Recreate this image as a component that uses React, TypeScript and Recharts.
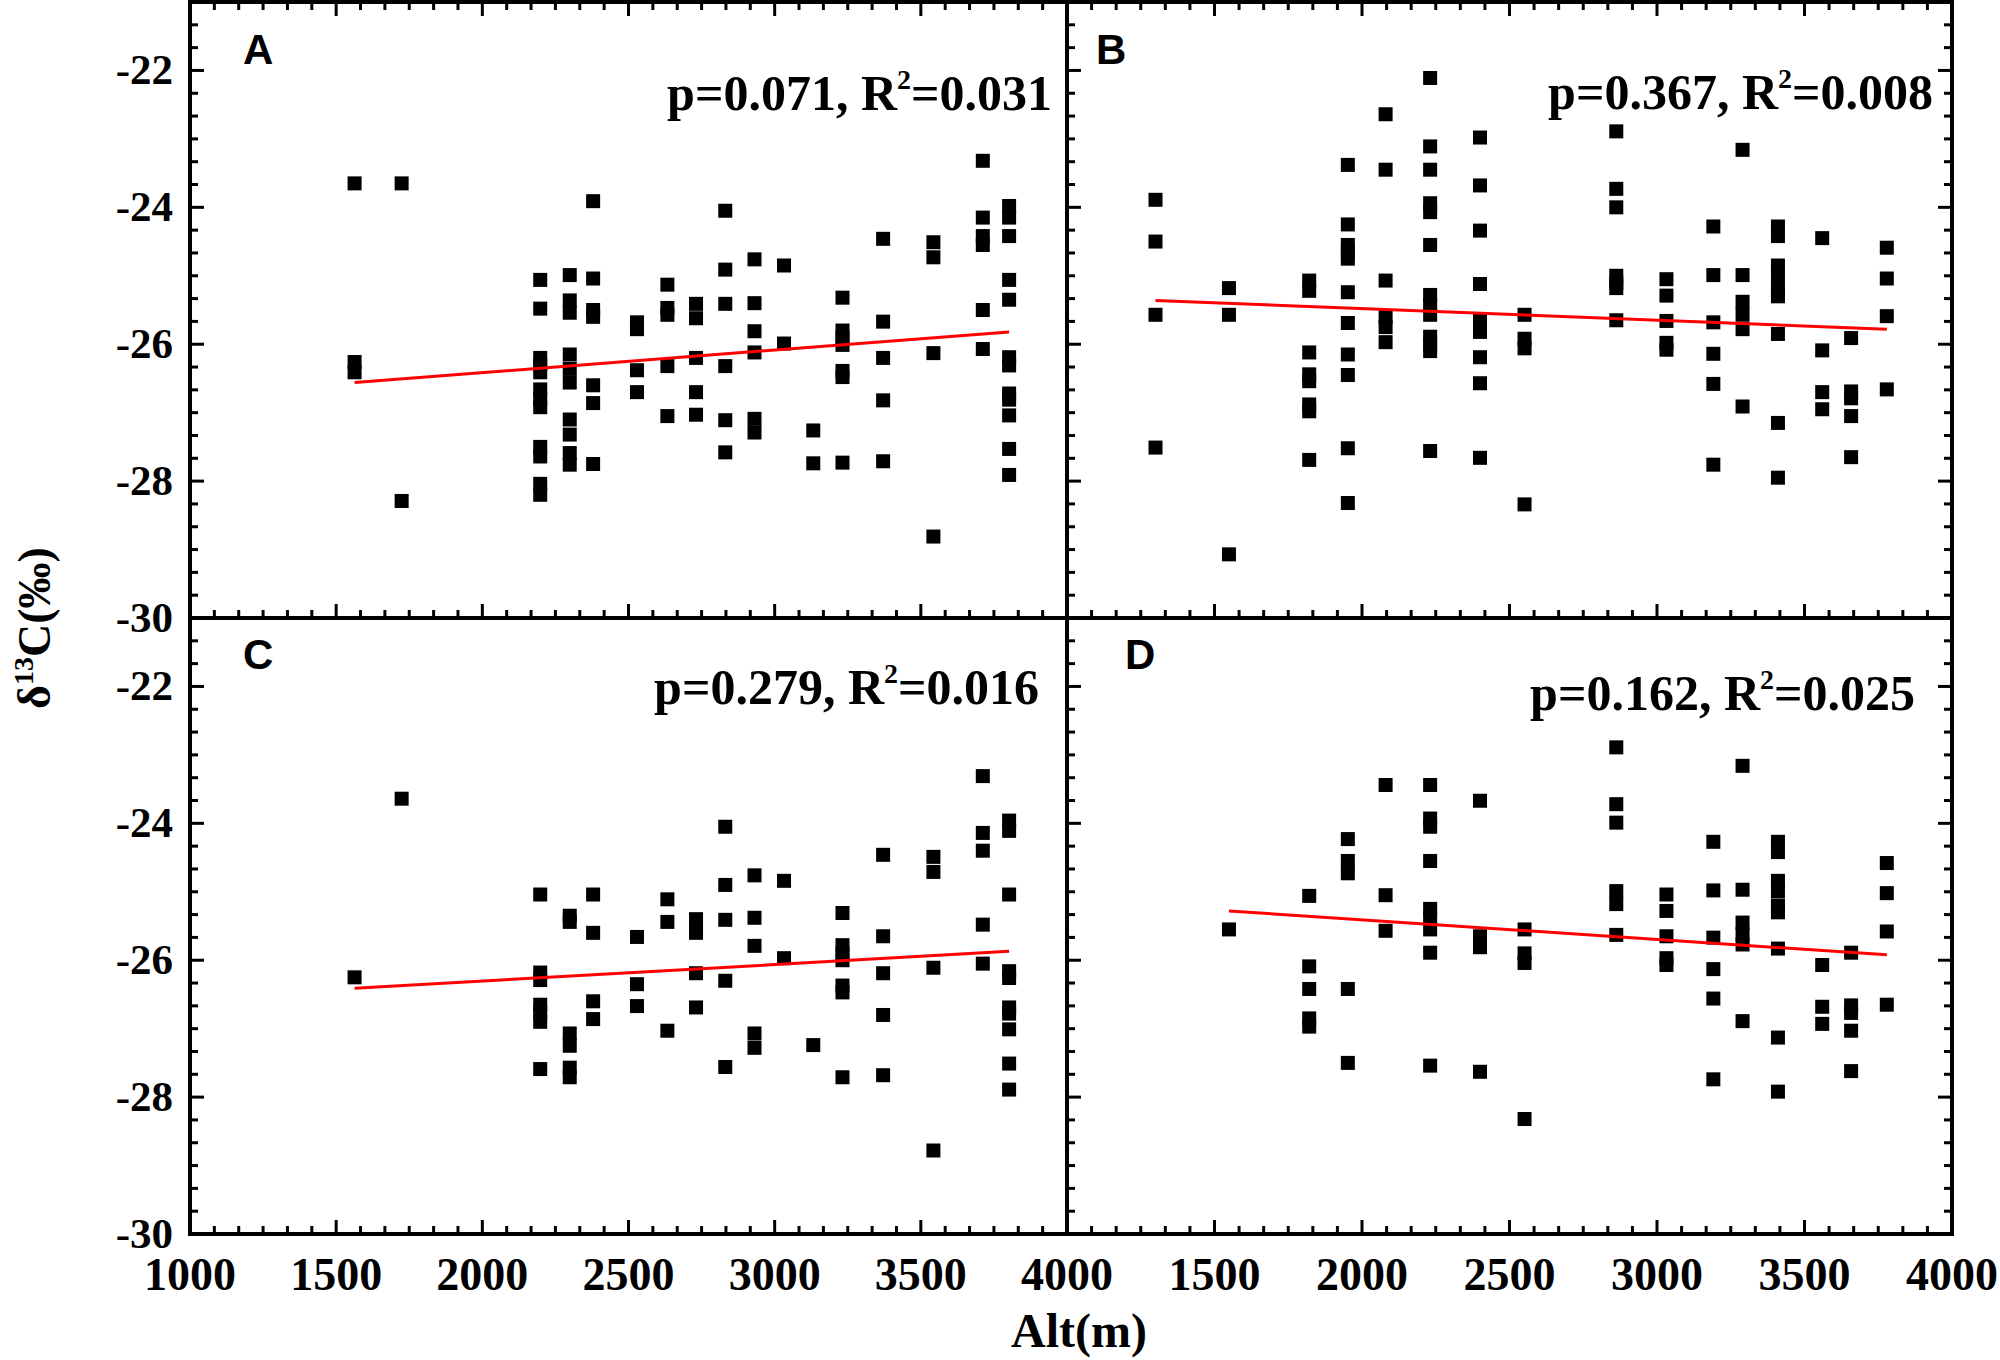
import React from 'react';
import { ScatterChart, Scatter, XAxis, YAxis, ReferenceArea } from 'recharts';

// δ13C (‰) per sampling altitude: [altitude (m), values at that altitude]
const panelA: [number, number[]][] = [
  [1563, [-23.65, -26.26, -26.41]],
  [1724, [-23.65, -28.29]],
  [2198, [-25.06, -25.48, -26.2, -26.3, -26.41, -26.66, -26.8, -26.92, -27.5, -27.64, -28.04, -28.2]],
  [2299, [-24.99, -25.36, -25.54, -26.15, -26.36, -26.56, -27.1, -27.32, -27.59, -27.76]],
  [2379, [-23.91, -25.04, -25.5, -25.6, -26.6, -26.86, -27.75]],
  [2529, [-25.68, -25.78, -26.38, -26.7]],
  [2633, [-25.13, -25.47, -25.57, -26.32, -27.05]],
  [2731, [-25.41, -25.62, -26.2, -26.7, -27.03]],
  [2831, [-24.05, -24.91, -25.41, -26.32, -27.11, -27.58]],
  [2931, [-24.76, -25.4, -25.81, -26.12, -27.09, -27.29]],
  [3032, [-24.85, -25.99]],
  [3132, [-27.26, -27.74]],
  [3232, [-25.32, -25.8, -25.9, -26.01, -26.39, -26.48, -27.73]],
  [3371, [-24.46, -25.67, -26.2, -26.82, -27.71]],
  [3543, [-24.51, -24.73, -26.13, -28.81]],
  [3712, [-23.32, -24.15, -24.42, -24.55, -25.5, -26.07]],
  [3802, [-23.98, -24.15, -24.42, -25.06, -25.35, -26.19, -26.31, -26.72, -26.81, -27.04, -27.53, -27.91]],
];

const panelB: [number, number[]][] = [
  [1300, [-23.89, -24.5, -25.57, -27.51]],
  [1549, [-25.18, -25.57, -29.07]],
  [1821, [-25.07, -25.22, -26.12, -26.44, -26.54, -26.88, -26.98, -27.69]],
  [1952, [-23.38, -24.25, -24.55, -24.65, -24.75, -25.24, -25.69, -26.15, -26.45, -27.52, -28.32]],
  [2080, [-22.64, -23.45, -25.07, -25.6, -25.75, -25.97]],
  [2231, [-22.11, -23.11, -23.45, -23.94, -24.07, -24.55, -25.28, -25.42, -25.57, -25.89, -26.0, -26.1, -27.56]],
  [2400, [-22.98, -23.68, -24.34, -25.12, -25.66, -25.82, -26.19, -26.57, -27.66]],
  [2551, [-25.57, -25.92, -26.06, -28.34]],
  [2862, [-22.89, -23.73, -24.0, -25.0, -25.1, -25.18, -25.65]],
  [3032, [-25.05, -25.29, -25.66, -25.98, -26.08]],
  [3191, [-24.28, -24.99, -25.68, -26.14, -26.58, -27.76]],
  [3290, [-23.16, -24.99, -25.38, -25.57, -25.78, -26.91]],
  [3410, [-24.28, -24.42, -24.85, -25.01, -25.2, -25.3, -25.85, -27.15, -27.95]],
  [3560, [-24.45, -26.09, -26.7, -26.95]],
  [3658, [-25.91, -26.69, -26.79, -27.05, -27.65]],
  [3779, [-24.59, -25.04, -25.59, -26.66]],
];

const panelC: [number, number[]][] = [
  [1563, [-26.25]],
  [1724, [-23.64]],
  [2198, [-25.04, -26.18, -26.29, -26.65, -26.76, -26.9, -27.59]],
  [2299, [-25.35, -25.44, -27.07, -27.25, -27.57, -27.71]],
  [2379, [-25.04, -25.6, -26.6, -26.86]],
  [2529, [-25.66, -26.35, -26.67]],
  [2633, [-25.11, -25.44, -27.03]],
  [2731, [-25.4, -25.6, -26.19, -26.69]],
  [2831, [-24.05, -24.9, -25.41, -26.3, -27.56]],
  [2931, [-24.76, -25.38, -25.79, -27.07, -27.28]],
  [3032, [-24.84, -25.97]],
  [3132, [-27.24]],
  [3232, [-25.31, -25.78, -25.9, -26.0, -26.37, -26.47, -27.71]],
  [3371, [-24.46, -25.65, -26.19, -26.8, -27.68]],
  [3543, [-24.49, -24.71, -26.11, -28.78]],
  [3712, [-23.31, -24.14, -24.4, -25.48, -26.05]],
  [3802, [-23.96, -24.11, -25.04, -26.16, -26.26, -26.69, -26.78, -27.01, -27.51, -27.89]],
];

const panelD: [number, number[]][] = [
  [1549, [-25.55]],
  [1821, [-25.06, -26.09, -26.42, -26.85, -26.97]],
  [1952, [-24.23, -24.55, -24.73, -26.42, -27.5]],
  [2080, [-23.44, -25.05, -25.57]],
  [2231, [-23.44, -23.93, -24.05, -24.55, -25.25, -25.38, -25.55, -25.89, -27.54]],
  [2400, [-23.67, -25.65, -25.81, -27.63]],
  [2551, [-25.55, -25.9, -26.04, -28.32]],
  [2862, [-22.89, -23.72, -23.99, -24.99, -25.18, -25.63]],
  [3032, [-25.04, -25.28, -25.65, -25.97, -26.07]],
  [3191, [-24.27, -24.98, -25.67, -26.13, -26.56, -27.74]],
  [3290, [-23.16, -24.97, -25.45, -25.62, -25.77, -26.89]],
  [3410, [-24.27, -24.42, -24.84, -24.99, -25.2, -25.3, -25.83, -27.13, -27.92]],
  [3560, [-26.07, -26.68, -26.93]],
  [3658, [-25.89, -26.66, -26.77, -27.03, -27.62]],
  [3779, [-24.58, -25.02, -25.58, -26.65]],
];

// linear fit end points [alt, δ13C]
const fitA: [number, number][] = [[1563, -26.56], [3802, -25.82]];
const fitB: [number, number][] = [[1300, -25.36], [3779, -25.78]];
const fitC: [number, number][] = [[1563, -26.41], [3802, -25.87]];
const fitD: [number, number][] = [[1549, -25.28], [3779, -25.92]];

const xMajor = [1000, 1500, 2000, 2500, 3000, 3500, 4000];
const yMajor = [-30, -28, -26, -24, -22];
const X_DOMAIN: [number, number] = [1000, 4000];
const Y_DOMAIN: [number, number] = [-30, -21];

// 5 minor ticks between majors on both axes
const xTicks = Array.from({ length: 37 }, (_, k) => 1000 + (k * 500) / 6);
const yTicks = Array.from({ length: 28 }, (_, k) => -30 + k / 3);

const W = 2000;
const H = 1360;
const AX_H = 30; // room given to the x axis box
const AX_W = 60; // room given to the y axis box
const SERIF = "'Liberation Serif', 'Times New Roman', serif";
const SANS = "'Liberation Sans', Arial, sans-serif";

// plot edges
const L = 190, MX = 1067, R = 1952, T = 2, MY = 618, B = 1234;

const near = (a: number, b: number) => Math.abs(a - b) < 1e-6;
const MAJOR_LEN = 14;
const MINOR_LEN = 8;

const Square = (props: any) => (
  <rect x={props.cx - 7} y={props.cy - 7} width={14} height={14} fill="#000" />
);
const Empty = () => <g />;

type PanelProps = {
  points: [number, number[]][];
  fit: [number, number][];
  box: [number, number, number, number];
  topTicks: boolean;
  rightTicks: boolean;
  xLabels: number[];
  yLabels: boolean;
};

function Panel({ points, fit, box, topTicks, rightTicks, xLabels, yLabels }: PanelProps) {
  const [l, t, r, b] = box;
  const pw = r - l;
  const ph = b - t;
  const data = points.flatMap(([alt, vals]) => vals.map((v) => ({ x: alt, y: v })));
  const fitData = fit.map(([x, y]) => ({ x, y }));

  const XTick = (p: any) => {
    const { x, y, payload } = p;
    const v = payload.value;
    const major = xMajor.some((m) => near(m, v));
    const len = major ? MAJOR_LEN : MINOR_LEN;
    const label = xLabels.find((m) => near(m, v));
    return (
      <g>
        <line x1={x} x2={x} y1={y} y2={y - len} stroke="#000" strokeWidth={3} />
        {topTicks && <line x1={x} x2={x} y1={y - ph} y2={y - ph + len} stroke="#000" strokeWidth={3} />}
        {label !== undefined && (
          <text x={x} y={y + 56} textAnchor="middle" fontFamily={SERIF} fontWeight="bold" fontSize={46} fill="#000">
            {label}
          </text>
        )}
      </g>
    );
  };

  const YTick = (p: any) => {
    const { x, y, payload } = p;
    const v = payload.value;
    const major = yMajor.some((m) => near(m, v));
    const len = major ? MAJOR_LEN : MINOR_LEN;
    return (
      <g>
        <line x1={x} x2={x + len} y1={y} y2={y} stroke="#000" strokeWidth={3} />
        {rightTicks && <line x1={x + pw} x2={x + pw - len} y1={y} y2={y} stroke="#000" strokeWidth={3} />}
        {yLabels && major && (
          <text x={x - 17} y={y + 14} textAnchor="end" fontFamily={SERIF} fontWeight="bold" fontSize={43} fill="#000">
            {Math.round(v)}
          </text>
        )}
      </g>
    );
  };

  return (
    <div style={{ position: 'absolute', left: 0, top: 0 }}>
      <ScatterChart
        width={W}
        height={H}
        margin={{ left: l - AX_W, top: t, right: W - r, bottom: H - b - AX_H }}
      >
        <XAxis
          type="number"
          dataKey="x"
          domain={X_DOMAIN}
          ticks={xTicks}
          interval={0}
          height={AX_H}
          tickSize={0}
          tickMargin={0}
          tickLine={false}
          axisLine={false}
          allowDataOverflow
          tick={XTick}
        />
        <YAxis
          type="number"
          dataKey="y"
          domain={Y_DOMAIN}
          ticks={yTicks}
          interval={0}
          width={AX_W}
          tickSize={0}
          tickMargin={0}
          tickLine={false}
          axisLine={false}
          allowDataOverflow
          tick={YTick}
        />
        <Scatter data={data} shape={Square} isAnimationActive={false} />
        <Scatter
          data={fitData}
          line={{ stroke: '#ff0000', strokeWidth: 3 }}
          shape={Empty}
          isAnimationActive={false}
        />
        <ReferenceArea
          x1={X_DOMAIN[0]}
          x2={X_DOMAIN[1]}
          y1={Y_DOMAIN[0]}
          y2={Y_DOMAIN[1]}
          fill="none"
          stroke="#000"
          strokeWidth={4}
          ifOverflow="visible"
        />
      </ScatterChart>
    </div>
  );
}

const Stat = ({ x, y, p, r2 }: { x: number; y: number; p: string; r2: string }) => (
  <text x={x} y={y} textAnchor="end" fontFamily={SERIF} fontWeight="bold" fontSize={50} fill="#000">
    <tspan>{`p=${p}, R`}</tspan>
    <tspan dy={-21} fontSize={28}>2</tspan>
    <tspan dy={21}>{`=${r2}`}</tspan>
  </text>
);

const Letter = ({ x, y, s }: { x: number; y: number; s: string }) => (
  <text x={x} y={y} fontFamily={SANS} fontWeight="bold" fontSize={42} fill="#000">
    {s}
  </text>
);

export default function App() {
  return (
    <div style={{ position: 'absolute', left: 0, top: 0, width: W, height: H, background: '#fff' }}>
      <Panel points={panelA} fit={fitA} box={[L, T, MX, MY]} topTicks rightTicks={false} xLabels={[]} yLabels />
      <Panel points={panelB} fit={fitB} box={[MX, T, R, MY]} topTicks rightTicks xLabels={[]} yLabels={false} />
      <Panel points={panelC} fit={fitC} box={[L, MY, MX, B]} topTicks={false} rightTicks={false} xLabels={xMajor} yLabels />
      <Panel
        points={panelD}
        fit={fitD}
        box={[MX, MY, R, B]}
        topTicks={false}
        rightTicks
        xLabels={xMajor.slice(1)}
        yLabels={false}
      />
      <svg width={W} height={H} style={{ position: 'absolute', left: 0, top: 0 }}>
        <Letter x={243} y={64} s="A" />
        <Letter x={1096} y={64} s="B" />
        <Letter x={243} y={669} s="C" />
        <Letter x={1125} y={669} s="D" />
        <Stat x={1052} y={110} p="0.071" r2="0.031" />
        <Stat x={1933} y={109} p="0.367" r2="0.008" />
        <Stat x={1039} y={704} p="0.279" r2="0.016" />
        <Stat x={1915} y={710} p="0.162" r2="0.025" />
        <text
          transform="translate(50,628) rotate(-90)"
          textAnchor="middle"
          fontFamily={SERIF}
          fontWeight="bold"
          fontSize={46}
          fill="#000"
        >
          δ<tspan dy={-17} fontSize={28}>13</tspan>
          <tspan dy={17}>C(‰)</tspan>
        </text>
        <text x={1079} y={1347} textAnchor="middle" fontFamily={SERIF} fontWeight="bold" fontSize={48} fill="#000">
          Alt(m)
        </text>
      </svg>
    </div>
  );
}
